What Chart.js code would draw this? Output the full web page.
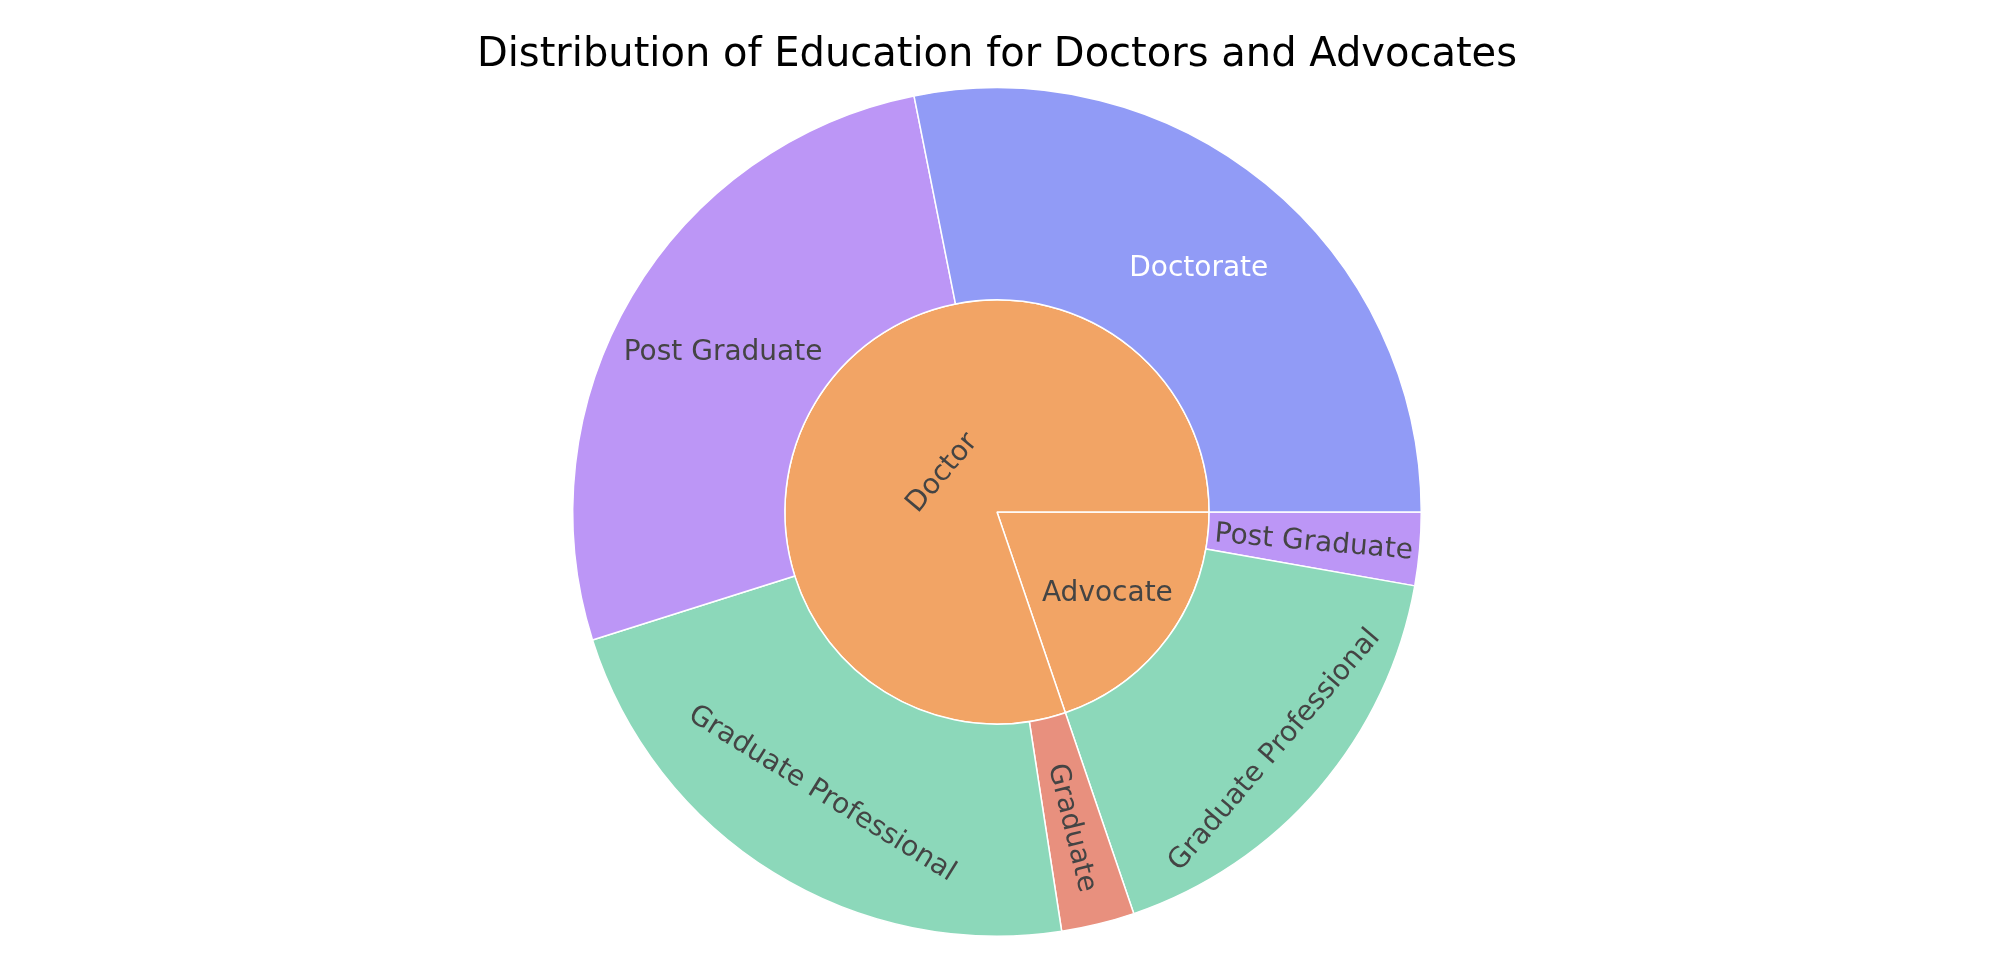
<!DOCTYPE html>
<html>
<head>
<meta charset="utf-8">
<script src="https://cdn.jsdelivr.net/npm/chart.js@4/dist/chart.umd.min.js"></script>
<style>
  body { margin: 0; background: #fff; }
  #wrap { width: 2002px; height: 980px; }
</style>
</head>
<body>
<div id="wrap"><canvas id="sunChart"></canvas></div>
<script>
// sunburst data, counter-clockwise from 3 o'clock as in the original
const professions = ['Doctor', 'Advocate'];
const educationLevels = ['Doctorate', 'Post Graduate', 'Graduate Professional', 'Graduate', 'Graduate Professional', 'Post Graduate'];
const educationParents = ['Doctor', 'Doctor', 'Doctor', 'Doctor', 'Advocate', 'Advocate'];
const educationCounts = [101, 96, 81, 10, 61, 10];

//colours per education level / profession
const levelColors = {
  'Doctorate': '#919bf6',
  'Post Graduate': '#bc96f6',
  'Graduate Professional': '#8cd8ba',
  'Graduate': '#e8907e'
};
const professionColor = '#f2a465';

//label style: orientation (h / r / t or fixed deg), radial spot inside ring, colour
const labelStyle = {
  'Doctor/Doctorate': {o: 'h', f: 0.5, c: '#fff'},
  'Doctor/Post Graduate': {o: 'h', f: 0.5},
  'Doctor/Graduate Professional': {o: 't', f: 0.55},
  'Doctor/Graduate': {o: 'r', f: 0.53},
  'Advocate/Graduate Professional': {o: 't', f: 0.71},
  'Advocate/Post Graduate': {o: 'r', f: 0.5},
  'Doctor': {o: -50, f: 0.33},
  'Advocate': {o: 'h', f: 0.64}
};

//chart.js goes clockwise, so flip the order
const outerLabels = educationLevels.slice().reverse();
const outerParents = educationParents.slice().reverse();
const outerValues = educationCounts.slice().reverse();
const innerLabels = professions.slice().reverse();
const innerValues = innerLabels.map(p =>
  educationCounts.reduce((s, v, i) => s + (educationParents[i] === p ? v : 0), 0));

const sunLabels = {
  id: 'sunLabels',
  afterDatasetsDraw(chart) {
    const ctx = chart.ctx;
    ctx.save();
    ctx.font = '28px "DejaVu Sans"';
    ctx.textAlign = 'center';
    ctx.textBaseline = 'middle';
    chart.data.datasets.forEach((ds, di) => {
      chart.getDatasetMeta(di).data.forEach((arc, i) => {
        const key = ds.keys[i];
        const st = labelStyle[key];
        const p = arc.getProps(['x', 'y', 'startAngle', 'endAngle', 'innerRadius', 'outerRadius'], true);
        const mid = (p.startAngle + p.endAngle) / 2;
        const r = p.innerRadius + st.f * (p.outerRadius - p.innerRadius);
        let rot = 0;
        if (typeof st.o === 'number') rot = st.o * Math.PI / 180;
        else if (st.o === 'r') rot = mid;
        else if (st.o === 't') rot = mid + Math.PI / 2;
        // keep text upright
        while (rot > Math.PI / 2) rot -= Math.PI;
        while (rot <= -Math.PI / 2) rot += Math.PI;
        ctx.save();
        ctx.translate(p.x + r * Math.cos(mid), p.y + r * Math.sin(mid));
        ctx.rotate(rot);
        ctx.fillStyle = st.c || '#444';
        ctx.fillText(ds.labels2[i], 0, 3);
        ctx.restore();
      });
    });
    ctx.restore();
  }
};

new Chart('sunChart', {
  type: 'doughnut',
  data: {
    labels: outerLabels,
    datasets: [
      {
        data: outerValues,
        labels2: outerLabels,
        keys: outerLabels.map((l, i) => outerParents[i] + '/' + l),
        backgroundColor: outerLabels.map(l => levelColors[l]),
        borderColor: '#fff',
        borderWidth: 1.5
      },
      {
        data: innerValues,
        labels2: innerLabels,
        keys: innerLabels,
        backgroundColor: innerLabels.map(() => professionColor),
        borderColor: '#fff',
        borderWidth: 1.5
      }
    ]
  },
  options: {
    responsive: true,
    maintainAspectRatio: false,
    animation: false,
    rotation: 90,
    cutout: 0,
    layout: {padding: {top: 0, bottom: 43, left: 0, right: 8}},
    plugins: {
      legend: {display: false},
      tooltip: {enabled: false},
      title: {
        display: true,
        text: 'Distribution of Education for Doctors and Advocates',
        color: '#000',
        font: {family: 'DejaVu Sans', size: 40, weight: 'normal', lineHeight: 1.2},
        padding: {top: 32, bottom: 7}
      }
    },
    events: []
  },
  plugins: [sunLabels]
});
</script>
</body>
</html>
